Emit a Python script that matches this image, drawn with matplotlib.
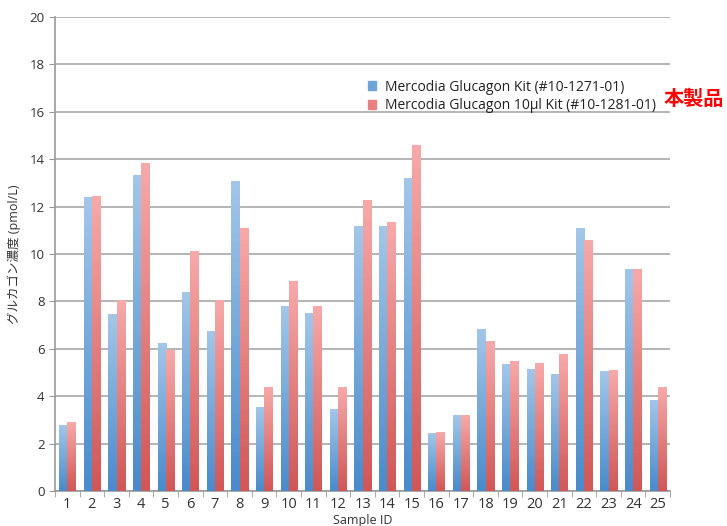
import matplotlib
matplotlib.use("Agg")
import matplotlib.pyplot as plt
import numpy as np
from matplotlib.colors import LinearSegmentedColormap

plt.rcParams['font.family'] = ['Open Sans', 'Noto Sans CJK JP', 'DejaVu Sans']

samples = [str(i) for i in range(1, 26)]
kit_1271 = [2.8, 12.4, 7.45, 13.35, 6.25, 8.4, 6.75, 13.1, 3.55, 7.8,
            7.5, 3.45, 11.2, 11.2, 13.2, 2.45, 3.2, 6.85, 5.35, 5.15,
            4.95, 11.1, 5.05, 9.35, 3.85]
kit_1281 = [2.9, 12.45, 8.05, 13.85, 5.95, 10.15, 8.05, 11.1, 4.4, 8.85,
            7.8, 4.4, 12.3, 11.35, 14.6, 2.5, 3.2, 6.35, 5.5, 5.4,
            5.8, 10.6, 5.1, 9.35, 4.4]
series_labels = ["Mercodia Glucagon Kit (#10-1271-01)",
                 "Mercodia Glucagon 10\u03bcl Kit (#10-1281-01)"]

blue_cmap = LinearSegmentedColormap.from_list("b", ["#4a8bcb", "#a3c6e8"])
red_cmap = LinearSegmentedColormap.from_list("r", ["#d05757", "#f7a9a9"])

fig = plt.figure(figsize=(7.27, 5.26), dpi=100)
ax = fig.add_axes([0.0757, 0.0665, 0.846, 0.901])

x = np.arange(len(samples))
w = 0.33
grad = np.linspace(0, 1, 64).reshape(-1, 1)

def gradient_bars(xpos, vals, cmap, face):
    bars = ax.bar(xpos, vals, width=w, color=face, edgecolor="none", zorder=3)
    for b in bars:
        x0, y0 = b.get_x(), b.get_y()
        im = ax.imshow(grad, cmap=cmap, aspect="auto", origin="lower",
                       extent=[x0, x0 + b.get_width(), y0, y0 + b.get_height()],
                       zorder=3.1)
        im.set_clip_path(b)
    return bars

gradient_bars(x - w / 2, kit_1271, blue_cmap, "#6fa4d9")
gradient_bars(x + w / 2, kit_1281, red_cmap, "#e88080")

ax.set_xlim(-0.5, len(samples) - 0.5)
ax.set_ylim(0, 20)
ax.set_yticks(np.arange(0, 21, 2))
ax.set_xticks(x)
ax.set_xticklabels(samples)
ax.set_xticks(np.arange(-0.5, len(samples), 1), minor=True)
ax.tick_params(axis="x", which="major", length=0, labelsize=10.5, colors="#333333", pad=4)
ax.tick_params(axis="x", which="minor", length=4, color="#999999")
ax.tick_params(axis="y", length=4, color="#999999", labelsize=9.5, labelcolor="#333333")

ax.yaxis.grid(True, color="#a8a8a8", linewidth=1.2, zorder=0)
ax.set_axisbelow(True)
for s in ["top", "right"]:
    ax.spines[s].set_visible(False)
for s in ["left", "bottom"]:
    ax.spines[s].set_color("#999999")
    ax.spines[s].set_linewidth(1.2)

ax.set_xlabel("Sample ID", fontsize=9, color="#333333", labelpad=2)
ax.set_ylabel("グルカゴン濃度 (pmol/L)", fontsize=9, color="#333333", labelpad=6)

handles = [plt.Rectangle((0, 0), 1, 1, color="#6fa4d9"),
           plt.Rectangle((0, 0), 1, 1, color="#e88080")]
leg = ax.legend(handles, series_labels, loc="upper left", bbox_to_anchor=(0.5, 0.88),
                frameon=False, fontsize=10, handlelength=0.6, handleheight=0.6,
                handletextpad=0.6, labelspacing=0.25, borderaxespad=0)
for t in leg.get_texts():
    t.set_color("#222222")

fig.text(0.913, 0.813, "本製品", color="#ff0000", fontsize=14.5, fontweight="bold",
         family=["Noto Sans CJK JP"], ha="left", va="center")

fig.savefig("out.png", dpi=100)
